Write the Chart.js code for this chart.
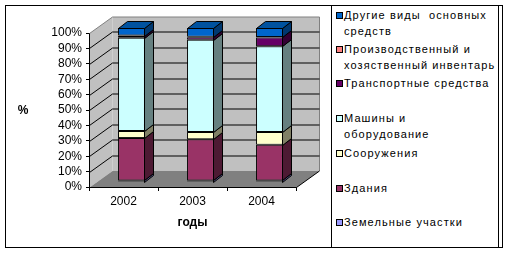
<!DOCTYPE html>
<html><head><meta charset="utf-8">
<script src="https://cdn.jsdelivr.net/npm/chart.js@4/dist/chart.umd.min.js"></script>
<style>
html,body{margin:0;padding:0;background:#fff;}
#wrap{position:relative;width:509px;height:253px;overflow:hidden;font-family:"Liberation Sans",Arial,sans-serif;}
#c{position:absolute;left:0;top:0;}
#frame{position:absolute;left:5px;top:5px;width:498px;height:243px;border:1px solid #000;box-sizing:border-box;pointer-events:none;}
#legend{position:absolute;left:331px;top:5px;width:168px;height:243px;border:1px solid #000;box-sizing:border-box;background:#fff;}
.item{position:absolute;left:0;width:166px;font-size:11px;line-height:15.5px;color:#000;}
.key{position:absolute;left:4px;width:7px;height:7px;border:1px solid #000;box-sizing:border-box;}
.txt{position:absolute;left:12px;top:0;white-space:pre;letter-spacing:1.1px;}
</style></head>
<body>
<div id="wrap">
<canvas id="c" width="509" height="253"></canvas>
<div id="frame"></div>
<div id="legend"></div>
</div>
<script>
// ---- data ----
const categories = ['2002', '2003', '2004'];
const seriesNames = [
  'Земельные участки',
  'Здания',
  'Сооружения',
  'Машины и\nоборудование',
  'Транспортные средства',
  'Производственный и\nхозяственный инвентарь',
  'Другие виды  основных\nсредств'
];
const land       = [1.0, 1.0, 1.0];
const buildings  = [27.5, 26.7, 23.2];
const structures = [4.6, 4.8, 8.3];
const machines   = [60.6, 59.9, 55.7];
const transport  = [1.1, 1.6, 5.7];
const inventory  = [0.3, 0.3, 0.2];
const other      = [4.9, 5.7, 5.9];
const seriesValues = [land, buildings, structures, machines, transport, inventory, other];
const yTickStep = 10;

// ---- styles ----
const seriesColors = ['#9999FF', '#993366', '#FFFFCC', '#CCFFFF', '#660066', '#FF8080', '#0066CC'];
const sideColors   = ['#4D4D80', '#4D1A33', '#808066', '#668080', '#330033', '#804040', '#003870'];
const topColor = '#00529F';
const WALL_DX = 23, WALL_DY = -16.5;
const BAR_DX = 9, BAR_DY = -7;
const SHIFT_X = 8, SHIFT_Y = -5;
const legendFirstLineCenters = [223, 189, 154, 119, 84, 50, 16];

function pathPoly(ctx, pts) {
  ctx.beginPath();
  ctx.moveTo(pts[0][0], pts[0][1]);
  for (let i = 1; i < pts.length; i++) ctx.lineTo(pts[i][0], pts[i][1]);
  ctx.closePath();
}

function drawWalls(chart) {
  const ctx = chart.ctx;
  const ca = chart.chartArea;
  const yS = chart.scales.y;
  const l = ca.left + 0.5, r = ca.right + 0.5, b = ca.bottom + 0.5, t = ca.top + 0.5;
  ctx.save();
  // back wall
  ctx.fillStyle = 'rgb(192,192,192)';
  ctx.fillRect(l + WALL_DX, t + WALL_DY, r - l, b - t);
  // side wall
  pathPoly(ctx, [[l, b], [l, t], [l + WALL_DX, t + WALL_DY], [l + WALL_DX, b + WALL_DY]]);
  ctx.fill();
  // floor
  ctx.fillStyle = 'rgb(128,128,128)';
  pathPoly(ctx, [[l, b], [l + WALL_DX, b + WALL_DY], [r + WALL_DX, b + WALL_DY], [r, b]]);
  ctx.fill();
  // wall top edges
  ctx.lineWidth = 1;
  ctx.strokeStyle = 'rgb(128,128,128)';
  ctx.beginPath();
  ctx.moveTo(l, t);
  ctx.lineTo(l + WALL_DX, t + WALL_DY);
  ctx.lineTo(r + WALL_DX, t + WALL_DY);
  ctx.lineTo(r + WALL_DX, b + WALL_DY);
  ctx.stroke();
  // gridlines on the walls
  ctx.strokeStyle = 'rgb(0,0,0)';
  for (let v = yTickStep; v < 100; v += yTickStep) {
    const py = Math.round(yS.getPixelForValue(v)) + 0.5;
    ctx.beginPath();
    ctx.moveTo(l, py);
    ctx.lineTo(l + WALL_DX, py + WALL_DY);
    ctx.lineTo(r + WALL_DX, py + WALL_DY);
    ctx.stroke();
  }
  // floor right edge
  ctx.beginPath();
  ctx.moveTo(r, b);
  ctx.lineTo(r + WALL_DX, b + WALL_DY);
  ctx.stroke();
  // axis lines on top of the walls
  ctx.beginPath();
  ctx.moveTo(l, t);
  ctx.lineTo(l, b);
  ctx.lineTo(r, b);
  ctx.stroke();
  ctx.restore();
}

function drawBarFaces(chart) {
  const ctx = chart.ctx;
  const n = chart.data.datasets.length;
  ctx.save();
  ctx.lineWidth = 1;
  ctx.strokeStyle = 'rgb(0,0,0)';
  for (let i = 0; i < n; i++) {
    const meta = chart.getDatasetMeta(i);
    meta.data.forEach(bar => {
      const p = bar.getProps(['x', 'y', 'base', 'width'], true);
      const left = Math.round(p.x - p.width / 2) + 0.5;
      const right = Math.round(p.x + p.width / 2) - 0.5;
      const top = Math.round(p.y) + 0.5, bot = Math.round(p.base) + 0.5;
      if (bot - top < 0.01) return;
      ctx.fillStyle = sideColors[i];
      pathPoly(ctx, [[right, top], [right + BAR_DX, top + BAR_DY], [right + BAR_DX, bot + BAR_DY], [right, bot]]);
      ctx.fill();
      ctx.stroke();
      if (i === n - 1) {
        ctx.fillStyle = topColor;
        pathPoly(ctx, [[left, top], [left + BAR_DX, top + BAR_DY], [right + BAR_DX, top + BAR_DY], [right, top]]);
        ctx.fill();
        ctx.stroke();
      }
    });
  }
  ctx.restore();
}

const walls3d = {
  id: 'walls3d',
  beforeDatasetsDraw(chart) {
    drawWalls(chart);
    chart.ctx.save();
    chart.ctx.translate(SHIFT_X, SHIFT_Y);
  },
  afterDatasetsDraw(chart) {
    drawBarFaces(chart);
    chart.ctx.restore();
  },
  afterDraw(chart) {
    const ctx = chart.ctx;
    ctx.save();
    ctx.fillStyle = '#000';
    ctx.font = 'bold 12px "Liberation Sans", Arial, sans-serif';
    ctx.textAlign = 'center';
    ctx.textBaseline = 'middle';
    ctx.fillText('%', 23, 111);
    ctx.restore();
  }
};

const FONT = '"Liberation Sans", Arial, sans-serif';
new Chart(document.getElementById('c'), {
  type: 'bar',
  data: {
    labels: categories,
    datasets: seriesValues.map((vals, i) => ({
      label: seriesNames[i].replace('\n', ' '),
      data: vals,
      backgroundColor: seriesColors[i],
      borderColor: '#000',
      borderWidth: 1,
      borderSkipped: false,
      clip: false
    }))
  },
  options: {
    responsive: false,
    animation: false,
    devicePixelRatio: 1,
    layout: {padding: {left: 0, top: 33, right: 213, bottom: 0}},
    plugins: {legend: {display: false}, tooltip: {enabled: false}},
    datasets: {bar: {categoryPercentage: 1, barPercentage: 0.39}},
    scales: {
      x: {
        stacked: true,
        grid: {offset: true, drawOnChartArea: false, tickLength: 4, color: '#000'},
        border: {display: true, color: '#000'},
        ticks: {padding: 3, color: '#000', maxRotation: 0, font: {size: 12, family: FONT}},
        title: {display: true, text: 'годы', color: '#000', font: {size: 12, weight: 'bold', family: FONT}, padding: {top: 0, bottom: 23}},
        afterFit(s) { s.height = 66; }
      },
      y: {
        stacked: true,
        min: 0, max: 100,
        grid: {drawOnChartArea: false, tickLength: 3, color: '#000'},
        border: {display: true, color: '#000'},
        ticks: {stepSize: yTickStep, autoSkip: false, padding: 4, color: '#000', callback: v => v + '%', font: {size: 12, family: FONT}},
        afterFit(s) { s.width = 89; }
      }
    }
  },
  plugins: [walls3d]
});

// HTML legend (reverse order like the original)
const lg = document.getElementById('legend');
for (let k = seriesNames.length - 1; k >= 0; k--) {
  const c = legendFirstLineCenters[k] - 6;
  const it = document.createElement('div');
  it.className = 'item';
  it.style.top = (c - 7.75) + 'px';
  const key = document.createElement('div');
  key.className = 'key';
  key.style.top = '4px';
  key.style.background = seriesColors[k];
  const tx = document.createElement('div');
  tx.className = 'txt';
  tx.textContent = seriesNames[k];
  it.appendChild(key);
  it.appendChild(tx);
  lg.appendChild(it);
}
</script>
</body></html>
